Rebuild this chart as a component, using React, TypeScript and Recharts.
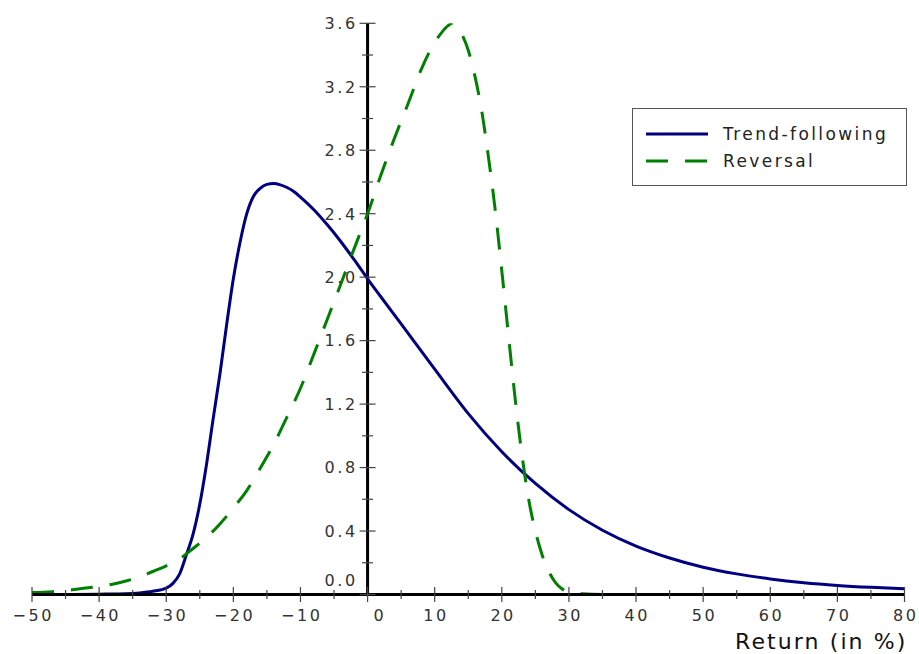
import React from 'react';
import { LineChart, Line, XAxis, YAxis, ReferenceLine, Customized } from 'recharts';

// ---- data ----
const TREND_X = [-50, -45, -40, -36, -34, -32, -30, -29, -28, -27, -26, -25, -24, -23, -22, -21, -20, -19, -18, -17, -16, -15, -14, -13, -12, -11, -10, -8, -6, -4, -2, 0, 2, 5, 10, 15, 20, 25, 30, 35, 40, 45, 50, 55, 60, 65, 70, 75, 80];
const TREND_Y = [0, 0, 0.002, 0.005, 0.01, 0.02, 0.04, 0.07, 0.13, 0.25, 0.38, 0.57, 0.82, 1.11, 1.39, 1.7, 1.99, 2.22, 2.4, 2.51, 2.56, 2.585, 2.59, 2.582, 2.565, 2.54, 2.505, 2.425, 2.33, 2.225, 2.11, 1.99, 1.875, 1.705, 1.42, 1.14, 0.9, 0.7, 0.535, 0.405, 0.305, 0.23, 0.172, 0.13, 0.098, 0.074, 0.057, 0.045, 0.036];

const REV_X = [-50, -47, -44, -41, -38, -36, -34, -32, -30, -28, -26, -24, -22, -20, -18, -16, -14, -12, -10, -8, -6, -4, -2, 0, 2, 4, 6, 8, 10, 11, 12, 12.6, 13.2, 14, 15, 16, 17, 18, 19, 20, 21, 22, 23, 24, 25, 26, 27, 28, 29, 30, 32, 35, 40, 50, 60, 70, 80];
const REV_Y = [0.012, 0.018, 0.03, 0.045, 0.065, 0.085, 0.11, 0.145, 0.18, 0.225, 0.29, 0.36, 0.445, 0.545, 0.655, 0.795, 0.945, 1.12, 1.3, 1.515, 1.735, 1.955, 2.18, 2.4, 2.645, 2.875, 3.09, 3.31, 3.48, 3.54, 3.585, 3.6, 3.59, 3.535, 3.43, 3.265, 3.05, 2.76, 2.43, 2.04, 1.63, 1.23, 0.88, 0.6, 0.4, 0.25, 0.145, 0.075, 0.035, 0.015, 0.004, 0, 0, 0, 0, 0, 0];

const X_TICKS = [-50, -45, -40, -35, -30, -25, -20, -15, -10, -5, 0, 5, 10, 15, 20, 25, 30, 35, 40, 45, 50, 55, 60, 65, 70, 75, 80];
const Y_TICKS = [0, 0.2, 0.4, 0.6, 0.8, 1.0, 1.2, 1.4, 1.6, 1.8, 2.0, 2.2, 2.4, 2.6, 2.8, 3.0, 3.2, 3.4, 3.6];

const SERIES_NAMES = ['Trend-following', 'Reversal'];
const AXIS_TITLE = 'Return (in %)';

const trendData = TREND_X.map((x, i) => ({ x, y: TREND_Y[i] }));
const revData = REV_X.map((x, i) => ({ x, y: REV_Y[i] }));

// ---- layout ----
const W = 919;
const H = 654;
const MARGIN = { top: 23.3, right: 14.5, bottom: 0, left: 31 };
const Y_AXIS_W = 1;
const X_MIN = -50;
const X_MAX = 80;
const PLOT_LEFT = MARGIN.left + Y_AXIS_W;
const PLOT_W = W - PLOT_LEFT - MARGIN.right;
const ZERO_X = PLOT_LEFT + ((0 - X_MIN) / (X_MAX - X_MIN)) * PLOT_W;
const FONT = '"DejaVu Sans", sans-serif';
const NAVY = '#000080';
const GREEN = '#008000';
const DASH = '22 17';

function XTick(props: any) {
  const { x, y, payload } = props;
  const v = payload.value;
  const major = v % 10 === 0;
  const len = major ? 7.5 : 4.5;
  const label = v < 0 ? '\u2212' + Math.abs(v) : String(v);
  return (
    <g>
      <line x1={x} x2={x} y1={y - len} y2={y + len} stroke="#444" strokeWidth={1.2} />
      {major && (
        <text
          x={x + (v === 0 ? 11 : 0) + 1.25}
          y={y + 26}
          textAnchor="middle"
          fontFamily={FONT}
          fontSize={16}
          letterSpacing={2.5}
          fill="#333"
        >
          {label}
        </text>
      )}
    </g>
  );
}

function YTick(props: any) {
  const { y, payload } = props;
  const v = payload.value;
  const major = Math.round(v * 10) % 4 === 0;
  const len = major ? 8 : 5.5;
  return (
    <g>
      <line x1={ZERO_X - len} x2={ZERO_X + len} y1={y} y2={y} stroke="#444" strokeWidth={1.2} />
      {major && (
        <text
          x={ZERO_X - 10}
          y={y + 5.8 - (v === 0 ? 14.5 : 0)}
          textAnchor="end"
          fontFamily={FONT}
          fontSize={16}
          letterSpacing={2.5}
          fill="#333"
        >
          {v.toFixed(1)}
        </text>
      )}
    </g>
  );
}

function Overlay() {
  return (
    <g>
      <rect x={632.5} y={108.5} width={274} height={77} fill="#fff" stroke="#555" strokeWidth={1} />
      <line x1={646} x2={708} y1={134} y2={134} stroke={NAVY} strokeWidth={3} />
      <line x1={646} x2={708} y1={161} y2={161} stroke={GREEN} strokeWidth={3} strokeDasharray={DASH} />
      <text x={723} y={140} fontFamily={FONT} fontSize={17} letterSpacing={2.4} fill="#222">
        {SERIES_NAMES[0]}
      </text>
      <text x={723} y={167} fontFamily={FONT} fontSize={17} letterSpacing={2.4} fill="#222">
        {SERIES_NAMES[1]}
      </text>
      <text x={735} y={649} fontFamily={FONT} fontSize={22} letterSpacing={2.1} fill="#111">
        {AXIS_TITLE}
      </text>
    </g>
  );
}

export default function App() {
  return (
    <div style={{ position: 'absolute', left: 0, top: 0, width: W, height: H, background: '#fff' }}>
      <LineChart width={W} height={H} margin={MARGIN}>
        <XAxis
          dataKey="x"
          type="number"
          domain={[X_MIN, X_MAX]}
          ticks={X_TICKS}
          interval={0}
          allowDataOverflow
          height={H - 594.5}
          axisLine={{ stroke: '#000', strokeWidth: 3 }}
          tickLine={false}
          tickSize={0}
          tickMargin={0}
          tick={<XTick />}
        />
        <YAxis
          dataKey="y"
          type="number"
          domain={[0, 3.6]}
          ticks={Y_TICKS}
          interval={0}
          allowDataOverflow
          width={Y_AXIS_W}
          axisLine={false}
          tickLine={false}
          tickSize={0}
          tickMargin={0}
          tick={<YTick />}
        />
        <ReferenceLine x={0} stroke="#000" strokeWidth={3} />
        <Line
          data={trendData}
          dataKey="y"
          type="monotone"
          stroke={NAVY}
          strokeWidth={3}
          dot={false}
          activeDot={false}
          isAnimationActive={false}
        />
        <Line
          data={revData}
          dataKey="y"
          type="monotone"
          stroke={GREEN}
          strokeWidth={3}
          strokeDasharray={DASH}
          dot={false}
          activeDot={false}
          isAnimationActive={false}
        />
        <Customized component={<Overlay />} />
      </LineChart>
    </div>
  );
}
